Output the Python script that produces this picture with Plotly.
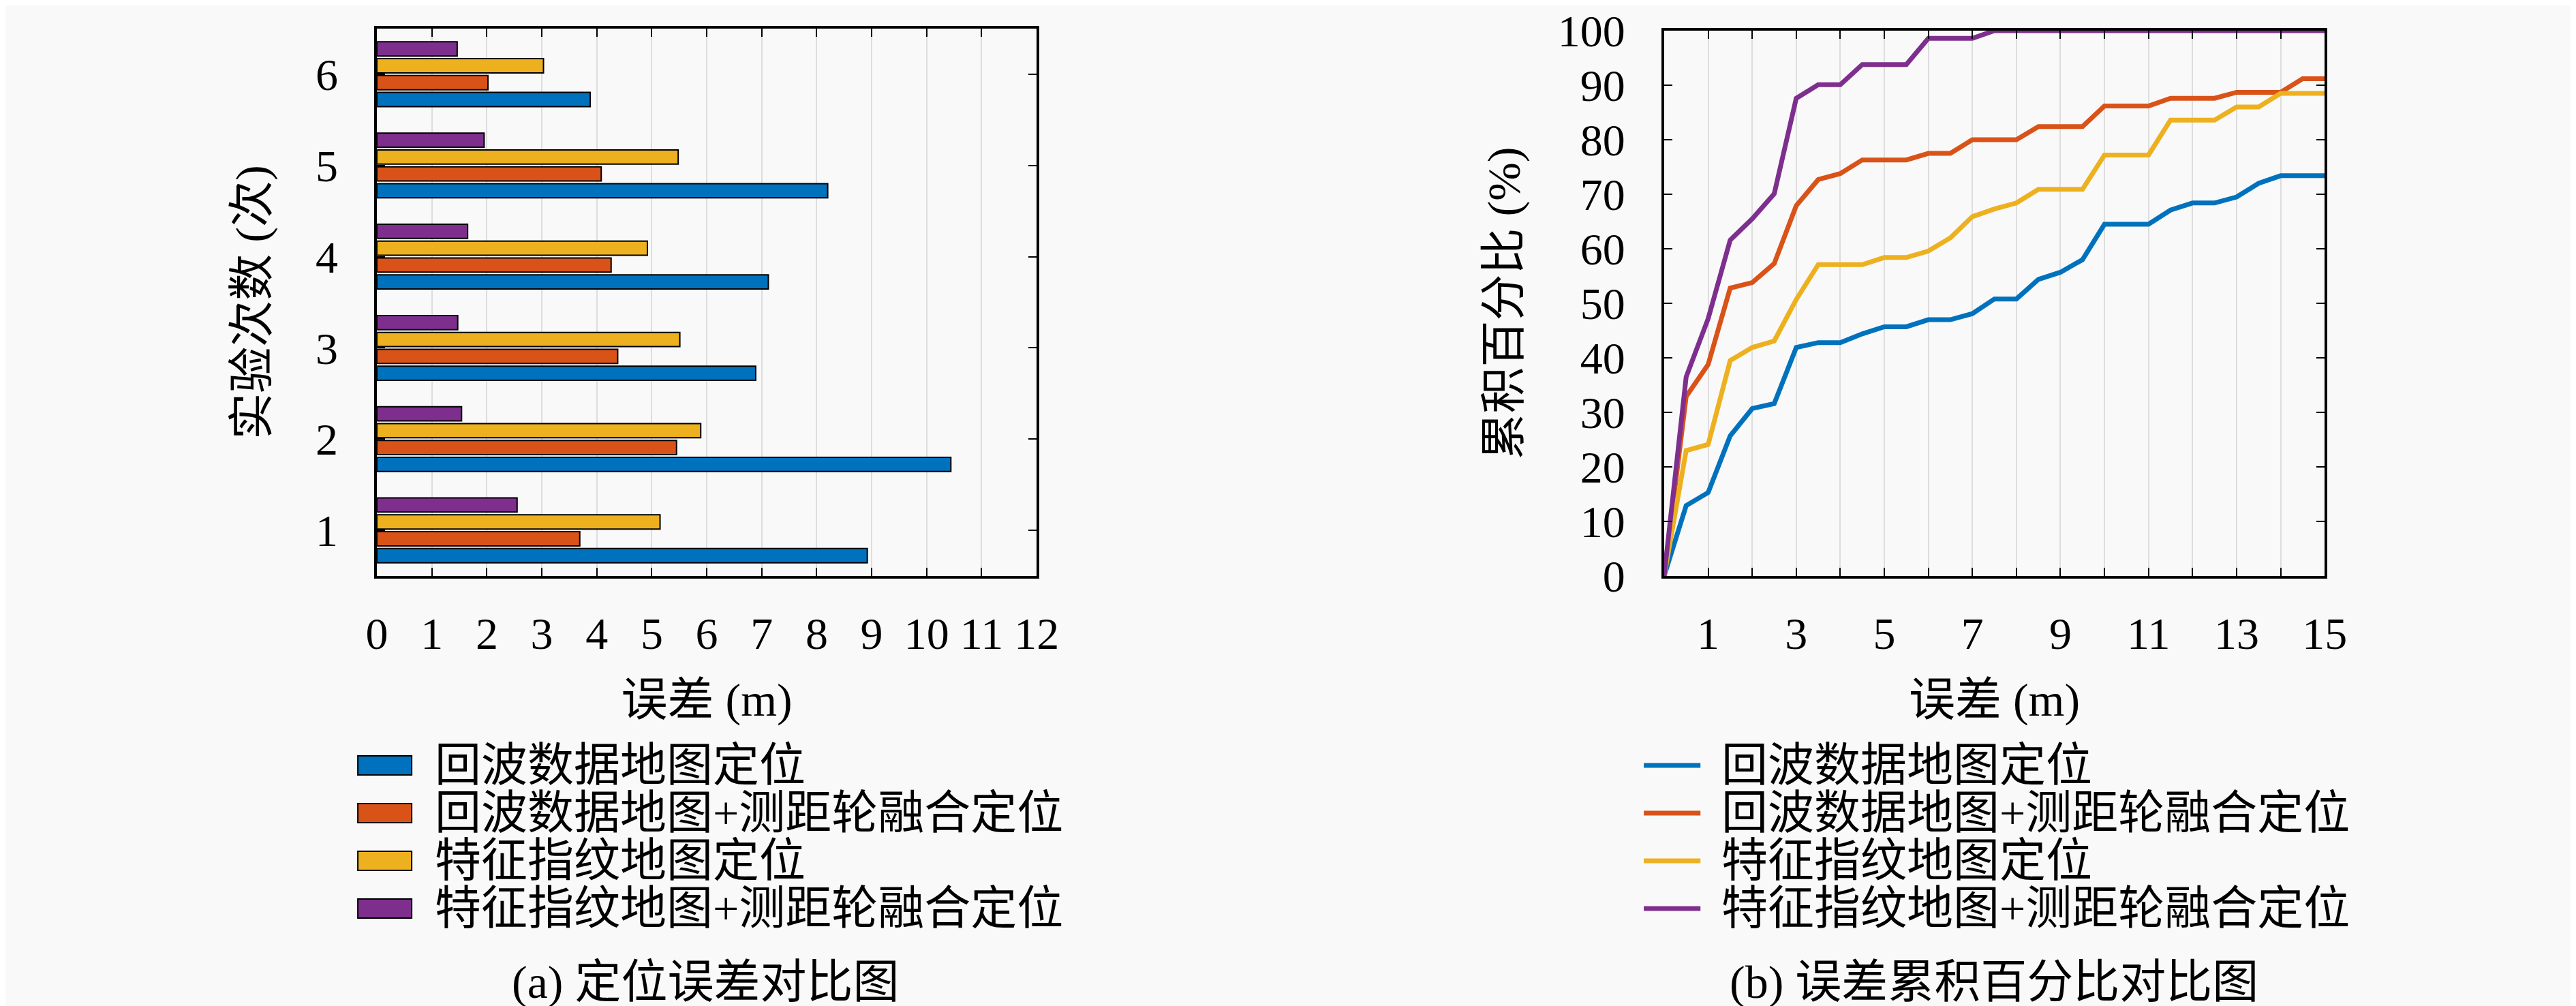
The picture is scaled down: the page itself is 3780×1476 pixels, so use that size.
import plotly.graph_objects as go

# series names and colours
names = ["回波数据地图定位", "回波数据地图+测距轮融合定位", "特征指纹地图定位", "特征指纹地图+测距轮融合定位"]
colors = ["#0072BD", "#D95319", "#EDB120", "#7E2F8E"]

# (a) positioning error per experiment
runs = [1, 2, 3, 4, 5, 6]
err_echo = [8.92, 10.44, 6.89, 7.12, 8.20, 3.88]
err_echo_odo = [3.69, 5.45, 4.38, 4.26, 4.08, 2.02]
err_finger = [5.15, 5.89, 5.51, 4.92, 5.48, 3.03]
err_finger_odo = [2.55, 1.54, 1.47, 1.65, 1.95, 1.46]

# (b) cumulative error percentage
err_x = [0, 0.5, 1, 1.5, 2, 2.5, 3, 3.5, 4, 4.5, 5, 5.5, 6, 6.5, 7, 7.5,
         8, 8.5, 9, 9.5, 10, 10.5, 11, 11.5, 12, 12.5, 13, 13.5, 14, 14.5, 15]
cdf_echo = [0, 12.9, 15.3, 25.7, 30.7, 31.6, 41.9, 42.8, 42.8, 44.4, 45.7, 45.7, 47.0, 47.0, 48.1, 50.8,
            50.8, 54.4, 55.7, 58.0, 64.5, 64.5, 64.5, 67.1, 68.4, 68.4, 69.5, 72.0, 73.4, 73.4, 73.4]
cdf_echo_odo = [0, 32.9, 38.8, 52.8, 53.8, 57.3, 67.9, 72.7, 73.8, 76.3, 76.3, 76.3, 77.5, 77.5, 80.0, 80.0,
                80.0, 82.4, 82.4, 82.4, 86.2, 86.2, 86.2, 87.6, 87.6, 87.6, 88.7, 88.7, 88.7, 91.2, 91.2]
cdf_finger = [0, 23.0, 24.1, 39.5, 41.9, 43.1, 50.7, 57.1, 57.1, 57.1, 58.4, 58.4, 59.6, 62.0, 65.9, 67.3,
              68.4, 70.9, 70.9, 70.9, 77.2, 77.2, 77.2, 83.6, 83.6, 83.6, 86.0, 86.0, 88.5, 88.5, 88.5]
cdf_finger_odo = [0, 36.5, 47.2, 61.6, 65.5, 70.1, 87.6, 90.1, 90.1, 93.8, 93.8, 93.8, 98.6, 98.6, 98.6, 100,
                  100, 100, 100, 100, 100, 100, 100, 100, 100, 100, 100, 100, 100, 100, 100]

x_ticks_a = [0, 1, 2, 3, 4, 5, 6, 7, 8, 9, 10, 11, 12]
x_ticks_b = [1, 2, 3, 4, 5, 6, 7, 8, 9, 10, 11, 12, 13, 14, 15]
x_labels_b = ["1", "", "3", "", "5", "", "7", "", "9", "", "11", "", "13", "", "15"]
y_ticks_b = [0, 10, 20, 30, 40, 50, 60, 70, 80, 90, 100]

FONT = "Liberation Serif, Noto Sans CJK SC, serif"
FS = 66
FS_CJK = 68

bars = [err_echo, err_echo_odo, err_finger, err_finger_odo]
cdfs = [cdf_echo, cdf_echo_odo, cdf_finger, cdf_finger_odo]

fig = go.Figure()
for i in range(4):
    fig.add_trace(go.Bar(y=runs, x=bars[i], orientation="h", name=names[i],
                         marker=dict(color=colors[i], line=dict(color="black", width=2)),
                         showlegend=False, xaxis="x", yaxis="y"))
for i in range(4):
    fig.add_trace(go.Scatter(x=err_x, y=cdfs[i], mode="lines", name=names[i],
                             line=dict(color=colors[i], width=7),
                             showlegend=False, xaxis="x2", yaxis="y2"))

axis_common = dict(showline=True, linecolor="black", linewidth=4, mirror="ticks",
                   ticks="inside", ticklen=12, tickwidth=2, tickcolor="black",
                   zeroline=False, automargin=False,
                   tickfont=dict(family=FONT, size=FS, color="black"))

fig.update_layout(
    width=3780, height=1476,
    margin=dict(l=0, r=0, t=0, b=0),
    paper_bgcolor="#f9f9f9", plot_bgcolor="#f9f9f9",
    font=dict(family=FONT, size=FS, color="black"),
    barmode="group", bargap=0.26, bargroupgap=0.16,
    xaxis=dict(domain=[0.1442, 0.4003], anchor="y", range=[0, 12],
               tickvals=x_ticks_a, showgrid=True, gridcolor="#dddddd", gridwidth=2,
               ticklabelstandoff=24,
               title=dict(text="误差 (m)", font=dict(family=FONT, size=FS_CJK), standoff=38),
               **axis_common),
    yaxis=dict(domain=[0.4329, 0.977], anchor="x", range=[0.5, 6.5],
               tickvals=runs, showgrid=False, ticklabelstandoff=40,
               title=dict(text="实验次数 (次)", font=dict(family=FONT, size=FS_CJK), standoff=48),
               **axis_common),
    xaxis2=dict(domain=[0.6439, 0.9003], anchor="y2", range=[0, 15],
                tickvals=x_ticks_b, ticktext=x_labels_b,
                showgrid=True, gridcolor="#dddddd", gridwidth=2,
                ticklabelstandoff=24,
                title=dict(text="误差 (m)", font=dict(family=FONT, size=FS_CJK), standoff=38),
                **axis_common),
    yaxis2=dict(domain=[0.4329, 0.9749], anchor="x2", range=[0, 100],
                tickvals=y_ticks_b, showgrid=False, ticklabelstandoff=40,
                title=dict(text="累积百分比 (%)", font=dict(family=FONT, size=FS_CJK), standoff=34),
                **axis_common),
)

# hand-made legends below each panel
leg_y = [0.2446, 0.1972, 0.1497, 0.1023]
for i in range(4):
    fig.add_shape(type="rect", xref="paper", yref="paper",
                  x0=0.1368, x1=0.1577, y0=leg_y[i] - 0.0095, y1=leg_y[i] + 0.0095,
                  fillcolor=colors[i], line=dict(color="black", width=2))
    fig.add_annotation(x=0.1661, y=leg_y[i], xref="paper", yref="paper", text=names[i],
                       showarrow=False, xanchor="left", yanchor="middle",
                       font=dict(family=FONT, size=FS_CJK))
    fig.add_shape(type="line", xref="paper", yref="paper",
                  x0=0.636, x1=0.658, y0=leg_y[i], y1=leg_y[i],
                  line=dict(color=colors[i], width=7))
    fig.add_annotation(x=0.6656, y=leg_y[i], xref="paper", yref="paper", text=names[i],
                       showarrow=False, xanchor="left", yanchor="middle",
                       font=dict(family=FONT, size=FS_CJK))

fig.add_annotation(x=0.2717, y=0.029, xref="paper", yref="paper", text="(a) 定位误差对比图",
                   showarrow=False, xanchor="center", yanchor="middle", font=dict(family=FONT, size=FS_CJK))
fig.add_annotation(x=0.772, y=0.029, xref="paper", yref="paper", text="(b) 误差累积百分比对比图",
                   showarrow=False, xanchor="center", yanchor="middle", font=dict(family=FONT, size=FS_CJK))

fig.write_html("out.html")
